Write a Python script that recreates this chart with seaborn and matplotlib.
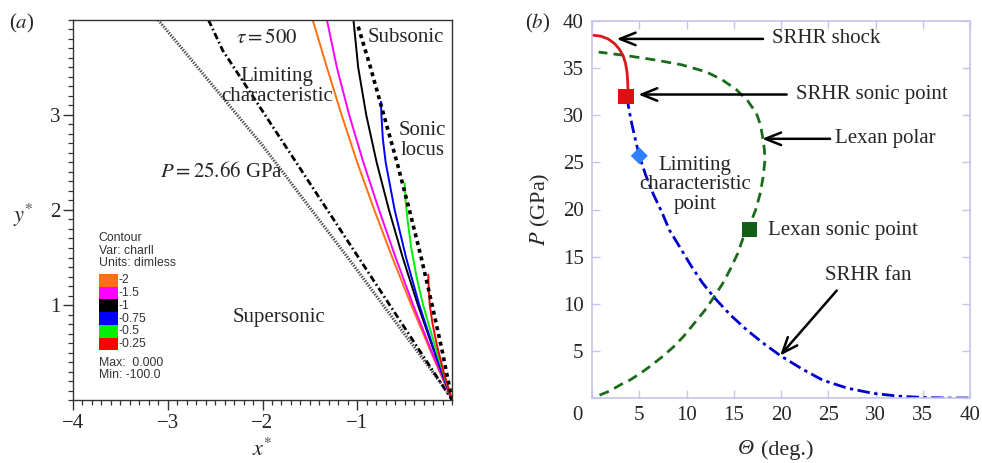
import matplotlib
matplotlib.use("Agg")
import matplotlib.pyplot as plt
from matplotlib.ticker import MultipleLocator
from matplotlib.patches import Rectangle
from matplotlib.transforms import ScaledTranslation
import seaborn as sns

# ---------------- panel (a): characteristic field, self-similar coordinates ----------------
# P = 25.66 GPa isobar
isobar_x = [-3.10, -2.00, -1.04, 0.0]
isobar_y = [4.00, 2.68, 1.42, 0.02]
# limiting characteristic
limit_x = [-2.57, -2.42, 0.0]
limit_y = [4.00, 3.68, 0.0]
# sonic locus
sonic_x = [-0.99, -0.86, -0.72, -0.58, -0.45, -0.325, -0.21, -0.10, 0.0]
sonic_y = [3.93, 3.50, 3.00, 2.50, 2.00, 1.50, 1.00, 0.50, 0.0]

# contours of the characteristic variable, from the upper end down to the apex
c_m2_x = [-1.47, -1.32, -1.165, -1.00, -0.82, -0.63, -0.43, -0.22, 0.0]
c_m2_y = [4.00, 3.50, 3.00, 2.50, 2.00, 1.50, 1.00, 0.50, 0.0]
c_m15_x = [-1.32, -1.215, -1.085, -0.935, -0.77, -0.595, -0.41, -0.21, 0.0]
c_m15_y = [4.00, 3.50, 3.00, 2.50, 2.00, 1.50, 1.00, 0.50, 0.0]
c_m1_x = [-1.04, -0.99, -0.905, -0.795, -0.665, -0.52, -0.36, -0.185, 0.0]
c_m1_y = [4.00, 3.50, 3.00, 2.50, 2.00, 1.50, 1.00, 0.50, 0.0]
c_m075_x = [-0.75, -0.745, -0.73, -0.70, -0.605, -0.485, -0.345, -0.18, 0.0]
c_m075_y = [3.14, 3.00, 2.75, 2.50, 2.00, 1.50, 1.00, 0.50, 0.0]
c_m05_x = [-0.50, -0.49, -0.47, -0.43, -0.375, -0.305, -0.16, 0.0]
c_m05_y = [2.28, 2.10, 1.90, 1.60, 1.30, 1.00, 0.50, 0.0]
c_m025_x = [-0.25, -0.245, -0.235, -0.205, -0.16, -0.09, 0.0]
c_m025_y = [1.32, 1.15, 1.00, 0.80, 0.58, 0.30, 0.0]

level_labels = ["-2", "-1.5", "-1", "-0.75", "-0.5", "-0.25"]
level_colors = ["#ff7010", "#ff00ff", "#000000", "#0000ff", "#00f000", "#ff0000"]
contours = [(c_m2_x, c_m2_y), (c_m15_x, c_m15_y), (c_m1_x, c_m1_y),
            (c_m075_x, c_m075_y), (c_m05_x, c_m05_y), (c_m025_x, c_m025_y)]

# ---------------- panel (b): pressure - deflection polars ----------------
shock_theta = [0.0, 0.9, 1.7, 2.4, 2.9, 3.3, 3.55, 3.7, 3.78, 3.8, 3.78]
shock_p = [38.5, 38.4, 38.1, 37.6, 37.0, 36.3, 35.5, 34.6, 33.6, 32.8, 32.2]
fan_theta = [3.7, 3.85, 4.1, 4.5, 5.0, 5.7, 6.5, 7.4, 8.2, 9.3, 10.5, 11.7, 12.9, 14.6,
             16.4, 18.2, 20.0, 22.2, 24.4, 27.0, 29.7, 32.4, 35.0, 37.5, 40.0]
fan_p = [32.0, 31.0, 29.6, 27.8, 25.7, 23.6, 21.6, 19.7, 17.8, 16.0, 14.0, 12.2, 10.7, 8.85,
         7.2, 5.75, 4.45, 3.1, 1.9, 1.05, 0.5, 0.2, 0.05, 0.0, 0.0]
lexan_theta = [0.8, 2.0, 3.0, 4.0, 5.1, 6.2, 7.4, 8.6, 9.7, 10.8, 11.9, 12.9, 13.8, 14.6,
               15.4, 16.0, 16.7, 17.3, 17.8, 18.1, 18.3, 18.25, 18.1, 17.85, 17.4, 16.5,
               15.3, 13.8, 12.1, 9.5, 6.8, 3.5, 0.7]
lexan_p = [0.3, 0.8, 1.4, 1.9, 2.6, 3.4, 4.35, 5.4, 6.55, 7.9, 9.25, 10.7, 12.1, 13.6,
           15.3, 17.0, 18.4, 19.9, 21.7, 23.4, 25.2, 26.3, 27.4, 28.9, 30.2, 31.5,
           32.7, 33.75, 34.6, 35.35, 35.85, 36.35, 36.7]
srhr_sonic = (3.6, 32.0)
limiting_point = (5.0, 25.7)
lexan_sonic = (16.7, 17.9)

sns.set_style("white")
plt.rcParams.update({
    "font.family": ["Liberation Serif", "DejaVu Serif"],
    "mathtext.fontset": "stix",
    "font.size": 15,
})

fig = plt.figure(figsize=(9.82, 4.63), dpi=100)
axa = fig.add_axes([73 / 982, 1 - 400 / 463, 379 / 982, 380 / 463])
axb = fig.add_axes([592 / 982, 1 - 398 / 463, 378 / 982, 377 / 463])


def curve(ax, x, y, **kw):
    sns.lineplot(x=x, y=y, sort=False, estimator=None, ax=ax, **kw)


# ---- panel (a) ----
curve(axa, isobar_x, isobar_y, color="#4a4a4a", lw=2.2, linestyle=(0, (0.45, 0.45)))
curve(axa, limit_x, limit_y, color="k", lw=2.0, linestyle=(0, (2.4, 1.1, 0.6, 1.1)))
for (cx, cy), col in zip(contours, level_colors):
    curve(axa, cx, cy, color=col, lw=1.4)
curve(axa, sonic_x, sonic_y, color="k", lw=2.6, linestyle=(0, (1.1, 1.1)))

axa.set_xlim(-4, 0)
axa.set_ylim(0, 4)
axa.set_xticks([-4, -3, -2, -1])
axa.set_yticks([1, 2, 3])
axa.xaxis.set_minor_locator(MultipleLocator(0.1))
axa.yaxis.set_minor_locator(MultipleLocator(0.1))
axa.tick_params(which="major", direction="out", length=7, width=1, color="#333333",
                labelsize=15, pad=3, bottom=True, left=True)
axa.tick_params(which="minor", direction="out", length=3.5, width=0.9, color="#333333",
                bottom=True, left=True)
axa.tick_params(axis="y", which="major", pad=2)
for s in axa.spines.values():
    s.set_color("#333333")
    s.set_linewidth(1.0)

axa.text(-1.95, 3.81, r"$\tau = 500$", ha="center", va="center")
axa.text(-0.89, 3.82, "Subsonic", ha="left", va="center")
axa.text(-1.85, 3.30, "Limiting\ncharacteristic", ha="center", va="center", linespacing=1.05)
axa.text(-0.31, 2.735, "Sonic\nlocus", ha="center", va="center", linespacing=1.05)
axa.text(-2.43, 2.40, r"$P = 25.66$ GPa", ha="center", va="center")
axa.text(-1.83, 0.87, "Supersonic", ha="center", va="center")

# contour key
key_font = dict(family=["Liberation Sans", "DejaVu Sans"], size=8.8, color="#333333",
                ha="left", va="center")
axa.text(-3.73, 1.705, "Contour", **key_font)
axa.text(-3.73, 1.570, "Var: charll", **key_font)
axa.text(-3.73, 1.440, "Units: dimless", **key_font)
sw_x0, sw_w, sw_top, sw_h = -3.73, 0.20, 1.326, 0.134
for i, (lab, col) in enumerate(zip(level_labels, level_colors)):
    y0 = sw_top - (i + 1) * sw_h
    axa.add_patch(Rectangle((sw_x0, y0), sw_w, sw_h, facecolor=col, edgecolor="none"))
    axa.text(sw_x0 + sw_w + 0.01, y0 + sw_h / 2, lab, **key_font)
axa.text(-3.73, 0.39, "Max:  0.000", **key_font)
axa.text(-3.73, 0.263, "Min: -100.0", **key_font)

fig.text(23 / 982, 1 - 215 / 463, r"$y^{*}$", ha="center", va="center", fontsize=16)
fig.text(262 / 982, 1 - 450 / 463, r"$x^{*}$", ha="center", va="center", fontsize=16)
fig.text(22 / 982, 1 - 23 / 463, r"($a$)", ha="center", va="center", fontsize=15)

# ---- panel (b) ----
curve(axb, lexan_theta, lexan_p, color="#1b6b1b", lw=2.0, linestyle=(0, (3.6, 2.2)))
curve(axb, fan_theta, fan_p, color="#0000cc", lw=2.0, linestyle=(0, (4.5, 1.6, 1.2, 1.6)))
curve(axb, shock_theta, shock_p, color="#d91a1a", lw=2.0)
sns.scatterplot(x=[srhr_sonic[0]], y=[srhr_sonic[1]], marker="s", s=120, color="#dd1111",
                edgecolor="none", zorder=5, ax=axb)
sns.scatterplot(x=[limiting_point[0]], y=[limiting_point[1]], marker="D", s=75, color="#2f80ff",
                edgecolor="none", zorder=5, ax=axb)
sns.scatterplot(x=[lexan_sonic[0]], y=[lexan_sonic[1]], marker="s", s=120, color="#0f5f14",
                edgecolor="none", zorder=5, ax=axb)

axb.set_xlim(0, 40)
axb.set_ylim(0, 40)
axb.set_xticks(range(0, 41, 5))
axb.set_xticklabels([str(v) for v in range(0, 41, 5)])
axb.set_yticks(range(0, 41, 5))
axb.set_yticklabels([""] + [str(v) for v in range(5, 41, 5)])
frame_col = "#c4c4ee"
axb.tick_params(which="major", direction="in", length=6, width=1, color=frame_col,
                labelsize=15, top=True, right=True, bottom=True, left=True, pad=6)
for s in axb.spines.values():
    s.set_color(frame_col)
    s.set_linewidth(1.2)
zero_lbl = axb.get_xticklabels()[0]
zero_lbl.set_transform(zero_lbl.get_transform() + ScaledTranslation(-0.15, 0, fig.dpi_scale_trans))

arrow_kw = dict(arrowstyle="->,head_length=0.75,head_width=0.3", lw=1.8, color="k",
                shrinkA=0, shrinkB=0, mutation_scale=15)
axb.annotate("", xy=(2.6, 38.1), xytext=(18.1, 38.1), arrowprops=arrow_kw)
axb.text(19.0, 38.1, "SRHR shock", ha="left", va="center")
axb.annotate("", xy=(4.9, 32.2), xytext=(20.6, 32.2), arrowprops=arrow_kw)
axb.text(21.6, 32.2, "SRHR sonic point", ha="left", va="center")
axb.annotate("", xy=(18.0, 27.5), xytext=(25.2, 27.5), arrowprops=arrow_kw)
axb.text(25.7, 27.5, "Lexan polar", ha="left", va="center")
axb.annotate("", xy=(19.9, 4.5), xytext=(25.9, 11.4), arrowprops=arrow_kw)
axb.text(29.2, 13.0, "SRHR fan", ha="center", va="center")
axb.text(18.6, 17.8, "Lexan sonic point", ha="left", va="center")
axb.text(10.9, 22.6, "Limiting\ncharacteristic\npoint", ha="center", va="center",
         linespacing=1.05)

fig.text(540 / 982, 1 - 209 / 463, r"$P$ (GPa)", ha="center", va="center", rotation=90,
         fontsize=16)
fig.text(754 / 982, 1 - 450 / 463, "Θ", ha="right", va="center", fontsize=16, style="italic")
fig.text(761 / 982, 1 - 450 / 463, "(deg.)", ha="left", va="center", fontsize=16)
fig.text(538 / 982, 1 - 23 / 463, r"($b$)", ha="center", va="center", fontsize=15)

fig.savefig("out.png", dpi=100)
